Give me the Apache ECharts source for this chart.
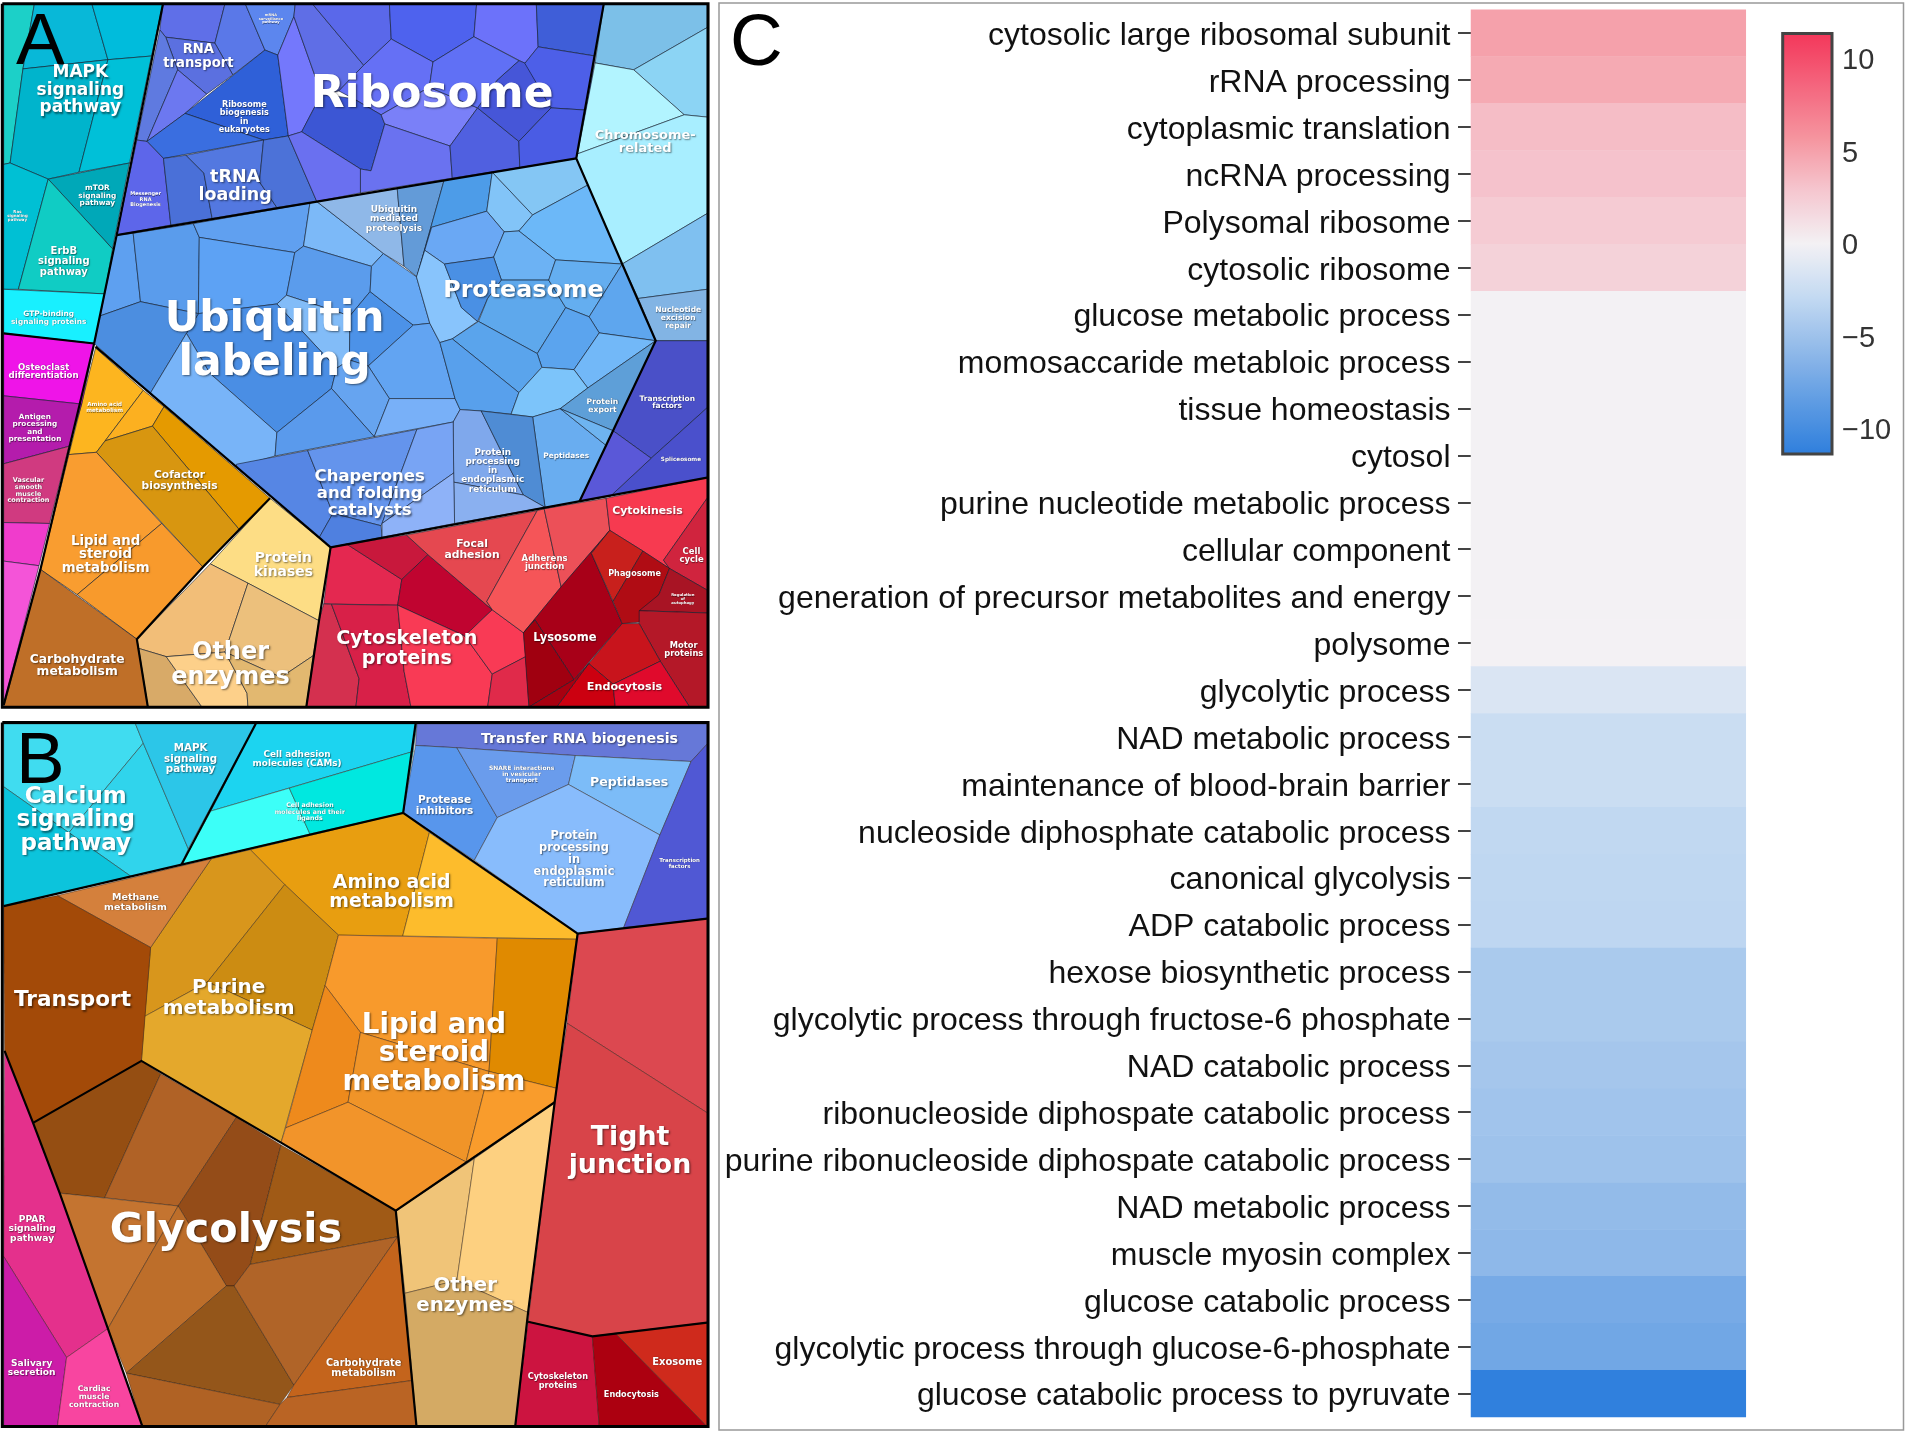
<!DOCTYPE html>
<html><head><meta charset="utf-8">
<style>html,body{margin:0;padding:0;background:#fff}#c{width:1905px;height:1431px}</style>
<script src="https://cdn.jsdelivr.net/npm/echarts@6/dist/echarts.min.js"></script>
</head><body><div id="c"></div>
<script>
// ---------- Heatmap (panel C)
const terms=["cytosolic large ribosomal subunit","rRNA processing","cytoplasmic translation","ncRNA processing","Polysomal ribosome","cytosolic ribosome","glucose metabolic process","momosaccaride metabloic process","tissue homeostasis","cytosol","purine nucleotide metabolic process","cellular component","generation of precursor metabolites and energy","polysome","glycolytic process","NAD metabolic process","maintenance of blood-brain barrier","nucleoside diphosphate catabolic process","canonical glycolysis","ADP catabolic process","hexose biosynthetic process","glycolytic process through fructose-6 phosphate","NAD catabolic process","ribonucleoside diphospate catabolic process","purine ribonucleoside diphospate catabolic process","NAD metabolic process","muscle myosin complex","glucose catabolic process","glycolytic process through glucose-6-phosphate","glucose catabolic process to pyruvate"];
const scores=[5.0,4.5,3.4,3.1,2.6,2.1,0,0,0,0,0,0,0,0,-1.5,-2.5,-2.5,-3.0,-3.1,-3.2,-4.3,-4.3,-4.6,-4.8,-5.0,-5.6,-5.9,-7.2,-7.5,-11.3];
const scoreMax=11.36;
const colorbarTicks=[-10,-5,0,5,10];
const scale3=['#2f7fdd','#5f9ce3','#92bae9','#c4daf2','#f3f1f4','#f5c7d0','#f5959f','#f4667e','#f3375a'];

// ---------- Proteomap A, polygons in map units (0..1568)
const tealA=[
[8,8,75,8,50,150,22,355,8,358],[75,8,200,8,235,130,50,150],[200,8,355,8,330,122,235,130],[50,150,235,130,172,375,105,390,22,355],[235,130,330,122,282,355,172,375],
[105,390,282,355,245,542],[8,358,22,355,105,390,40,630,8,630],[105,390,245,542,228,640,40,630],[8,630,228,640,205,748,8,726]];
const tealFillA=['#1cd0c8','#08b8d8','#00bcdc','#00b4cc','#00c0d8','#00a8b8','#00c0d4','#10ccc4','#18f0ff'];
const purpleA=[
[355,8,490,8,468,94,361,81,348,65],[490,8,534,8,577,109,507,163,468,94],[534,8,643,8,640,36,605,120,577,109],[361,81,468,94,507,163,450,205,387,152],[348,65,361,81,387,152,320,308,298,305],[387,152,450,205,403,247,320,308],
[403,247,577,109,605,120,628,296,574,305],[320,308,403,247,574,305,356,345],[298,305,320,308,356,345,372,490,254,512],[356,345,405,338,444,377,462,476,372,490],[405,338,574,305,565,396,603,452,462,476,444,377],[574,305,628,296,690,439,603,452,565,396],
[605,120,640,36,700,205,657,287,628,296],[640,36,643,8,680,8,792,142,738,198,700,205],[680,8,848,8,852,85,792,142],[848,8,1038,8,1032,80,943,135,852,85],[1038,8,1168,8,1172,102,1143,138,1032,80],[1168,8,1315,8,1296,122,1172,102],
[792,142,852,85,943,135,935,190,830,250,770,215,738,198],[657,287,700,205,770,215,830,250,838,270,808,372,785,368],[628,296,657,287,785,368,785,420,690,439],[830,250,935,190,1040,235,980,318,838,270],[808,372,838,270,980,318,985,388,785,420,785,368],[980,318,1040,235,1130,308,1132,365,985,388],
[1040,235,1082,175,1130,132,1145,138,1200,235,1130,308],[943,135,1032,80,1130,132,1082,175,1040,235,935,190],[1143,138,1172,102,1296,122,1280,240,1200,235],[1200,235,1280,240,1255,345,1132,365,1130,308]];
const purpleFillA=['#5f6fe8','#5a78e8','#5c86ee','#5b70e0','#5f7ae0','#6c78f0','#2f60d8','#3a6ee0','#5d66ea','#4a70d8','#5378e0','#4c72d8',
'#7478fc','#5f6ee6','#5a68ea','#4e62ee','#6c72fa','#3f5ed8','#6570f5','#3c56d4','#6a70f0','#7a80f8','#6a72f0','#5060e0','#4656d8','#6070f5','#4d5fe8','#4a5ce4'];
const chromA=[
[1315,8,1540,8,1540,60,1380,152,1296,137],[1380,152,1540,60,1540,255,1490,250],[1296,137,1380,152,1490,250,1258,335],[1258,335,1490,250,1540,255,1540,465,1355,575,1255,345],[1355,575,1540,465,1540,630,1390,650],[1390,650,1540,630,1540,742,1428,742],
[1428,742,1540,742,1540,888,1418,998,1335,938],[1418,998,1540,888,1540,1040,1262,1092,1330,1080],[1335,938,1418,998,1330,1080,1262,1092]];
const chromFillA=['#7cc0e8','#8cd4f4','#b2f4ff','#a8eeff','#7fc0f0','#82b4e4','#4a50c8','#4a50cc','#5a58d8'];
const ubiqA=[
[254,512,290,508,306,657,218,688],[290,508,421,487,434,517,432,683,306,657],[421,487,675,442,661,536,642,550,434,517],[434,517,642,550,624,643,603,662,432,683],[675,442,690,439,835,552,809,580,661,536],[661,536,809,580,806,635,762,688,624,643,642,550],
[624,643,762,688,761,784,733,802,603,662],[432,683,603,662,733,802,722,846,603,942,457,813,406,726],[806,635,900,708,802,797,761,784,762,688],[218,688,306,657,432,683,406,726,327,857,205,748],[327,857,406,726,457,813,603,942,599,993,515,1017],
[809,580,835,552,907,603,936,704,900,708,806,635],[900,708,936,704,958,746,991,868,848,868,802,797],[761,784,802,797,848,868,815,951,722,846,733,802],[722,846,815,951,599,993,603,942],[848,868,991,868,1002,892,987,919,815,951],
[690,439,865,410,880,580,835,552],[865,410,967,393,908,603,880,580]];
const ubiqFillA=['#5ea0f0','#5a9cec','#60a0f0','#5da2f4','#7cb9f8','#5b9cec','#82bcf8','#4a8ee4','#4c92e8','#4c8ee0','#78b4f8','#66a8f4','#62a4f2','#66a4f0','#5a9aec','#78b0f8','#8fb8e8','#639bd8'];
const proteasomeA=[
[967,393,1072,375,1060,460,940,495,908,603],[1072,375,1160,468,1130,503,1098,505,1060,460],[1072,375,1255,345,1280,403,1160,468],[1160,468,1280,403,1355,575,1210,566,1130,503],[940,495,1060,460,1098,505,1075,560,968,575,925,545],[1098,505,1130,503,1210,566,1195,610,1092,610,1075,560],
[907,603,925,545,968,575,1005,670,1040,700,985,738,958,746,936,704],[968,575,1075,560,1092,610,1062,650,1040,700,1005,670],[1092,610,1195,610,1232,670,1170,770,1042,700,1062,650],[1195,610,1210,566,1355,575,1283,690,1232,670],[1355,575,1428,742,1305,725,1283,690],
[1232,670,1283,690,1305,725,1250,805,1180,800,1170,770],[1305,725,1428,742,1280,845,1250,805],[985,738,1042,700,1170,770,1180,800,1130,855],[958,746,985,738,1130,855,1113,902,1048,895,1002,892,991,868],[1130,855,1180,800,1250,805,1280,845,1220,890,1160,908,1113,902],
[1428,742,1335,938,1220,890,1280,845],[1160,908,1220,890,1320,970,1262,1092,1187,1105],[1220,890,1335,938,1320,970],
[987,919,1002,892,1048,895,1100,1000,1140,1078,988,1050],[1048,895,1160,908,1187,1105,1140,1078,1100,1000],[988,1050,1140,1078,1187,1105,990,1140],
[515,1017,515,1011,670,981,725,1118,695,1171],[670,981,908,935,830,1145,725,1118],[908,935,987,919,988,1030,832,1140],[725,1118,830,1145,832,1170,720,1192,695,1171],[832,1140,988,1030,990,1140,832,1170]];
const proteasomeFillA=['#4d9ce8','#82c4f8','#84c6f4','#6cb8f8','#6aa8f4','#6cb2f4','#88c4fc','#4a90e4','#5ea8ec','#64aef0','#5ea6ee','#5ba4ee','#72b8f8','#5aa4ec','#58a0ec','#7cc4fa','#5e9fd8','#69adf0','#6eb4f0','#7fa8ec','#4f8cd4','#8ab0f0','#5686e4','#6494ec','#78a4f4','#4f80e0','#8eb2f8'];
const orangeA=[
[208,758,312,850,229,960,210,985,150,990],[312,850,357,886,332,928,229,960],[357,886,588,1085,520,1152,332,928],[229,960,332,928,520,1152,442,1235,210,985],[150,990,210,985,352,1140,168,1295,88,1240],[352,1140,442,1235,298,1392,168,1295],
[588,1085,720,1192,695,1352,540,1270,458,1228],[458,1228,540,1270,490,1420,362,1430,302,1412,298,1392],[540,1270,695,1352,682,1428,612,1475,490,1420],[302,1412,362,1430,440,1540,322,1540],[362,1430,490,1420,538,1510,540,1540,440,1540],[490,1420,612,1475,682,1428,667,1540,540,1540,538,1510],
[88,1240,298,1392,322,1540,8,1540]];
const orangeFillA=['#fdb51f','#fcb020','#e59a00','#d89610','#f99d30','#f89a2c','#fddd85','#f2be78','#ecc07c','#d8aa68','#fdd08a','#e2b870','#bf6f28'];
const pinkA=[[8,726,205,748,178,880,8,862],[8,862,178,880,150,972,8,1010],[8,1010,150,972,108,1140,8,1138],[8,1138,108,1140,85,1232,8,1222],[8,1222,85,1232,8,1535]];
const pinkFillA=['#ef14e8','#b41cac','#d03a80','#f03ccc','#f454d8'];
const redA=[
[720,1192,755,1185,875,1262,866,1318,705,1315],[755,1185,885,1165,932,1208,875,1262],[875,1262,932,1208,1072,1328,1012,1385,866,1318],[695,1350,705,1315,722,1316,782,1478,775,1540,667,1540],[722,1316,866,1318,880,1462,895,1540,775,1540,782,1478],[866,1318,1012,1385,1072,1468,1062,1540,895,1540,880,1462],
[1072,1328,1140,1378,1145,1430,1072,1468,1012,1385],[1072,1468,1145,1430,1152,1540,1062,1540],[885,1165,1170,1112,1060,1310,1072,1328,932,1208],[1170,1112,1185,1108,1222,1278,1140,1378,1072,1328,1060,1310],[1185,1108,1320,1085,1328,1155,1222,1278],
[1320,1085,1540,1040,1540,1085,1445,1220,1458,1238,1400,1200,1328,1155],[1540,1085,1540,1285,1458,1238,1445,1220],[1140,1378,1222,1278,1328,1155,1288,1205,1355,1358,1250,1480,1165,1350],[1140,1378,1165,1350,1250,1480,1152,1540],
[1288,1205,1328,1155,1400,1200,1335,1310],[1400,1200,1458,1238,1435,1295,1392,1355,1355,1358,1335,1310],[1458,1238,1540,1285,1540,1335,1392,1330,1435,1295],[1392,1330,1540,1335,1540,1540,1502,1540,1438,1440,1392,1358],[1355,1358,1392,1358,1438,1440,1335,1490,1282,1445],
[1282,1445,1335,1490,1340,1540,1212,1540],[1335,1490,1438,1440,1502,1540,1340,1540],[1250,1480,1282,1445,1212,1540,1152,1540]];
const redFillA=['#e42850','#c8183c','#c00430','#d4304f','#d82048','#f93a55','#f93a55','#e02a4a','#e54850','#f55558','#ec5058','#f73a50','#d0243e','#a80018','#a00010','#c8201c','#b00c14','#a81424','#b41828','#c8141c','#cc0010','#e00a2c','#a80010'];
const ridgesA=[
[5,8,1542,8,1542,1540,5,1540,5,8],[355,8,254,512,205,748],[8,726,205,748],[205,748,88,1240,8,1535],[208,755,720,1192],[254,512,690,439,1255,345],
[1315,8,1255,345,1355,575,1428,742,1335,938,1262,1092],[720,1192,1540,1040],[720,1192,695,1350,667,1540],[588,1085,442,1235,298,1392,322,1540]];
const namesA=[
["MAPK\nsignaling\npathway",175,192,17],["RNA\ntransport",432,119,13.2],["Ribosome\nbiogenesis\nin\neukaryotes",532,252,8.1],["mRNA\nsurveillance\npathway",590,38,3.6],["tRNA\nloading",512,400,17.5],["Messenger\nRNA\nBiogenesis",317,431,5],["Ribosome",941,198,44],
["mTOR\nsignaling\npathway",212,423,7.4],["Ras\nsignaling\npathway",38,467,4],["ErbB\nsignaling\npathway",139,566,10],["GTP-binding\nsignaling proteins",106,689,7.4],["Chromosome-\nrelated",1405,305,13],["Ubiquitin\nmediated\nproteolysis",858,473,9],["Proteasome",1140,626,23.8],["Ubiquitin\nlabeling",598,735,42.5],
["Nucleotide\nexcision\nrepair",1477,689,7.6],["Protein\nexport",1312,880,7.7],["Transcription\nfactors",1453,873,7.5],["Spliceosome",1483,997,5.7],["Peptidases",1233,990,7.4],["Protein\nprocessing\nin\nendoplasmic\nreticulum",1073,1022,8.9],["Chaperones\nand folding\ncatalysts",805,1071,16.5],
["Osteoclast\ndifferentiation",95,806,8.6],["Antigen\nprocessing\nand\npresentation",76,929,7.3],["Vascular\nsmooth\nmuscle\ncontraction",62,1065,6.5],["Amino acid\nmetabolism",228,885,5.6],["Cofactor\nbiosynthesis",391,1043,10.7],["Lipid and\nsteroid\nmetabolism",230,1204,13.3],["Protein\nkinases",617,1227,13.9],["Other\nenzymes",502,1442,24],["Carbohydrate\nmetabolism",168,1446,12.3],
["Cytoskeleton\nproteins",886,1408,19.2],["Focal\nadhesion",1028,1193,10.8],["Adherens\njunction",1186,1222,8.6],["Cytokinesis",1410,1110,10.9],["Cell\ncycle",1506,1207,8.5],["Phagosome",1382,1246,8.1],["Regulation\nof\nautophagy",1487,1302,3.8],["Lysosome",1230,1385,11.5],["Motor\nproteins",1489,1412,8.3],["Endocytosis",1360,1492,11.2]];

// ---------- Proteomap B
const tealB=[
[8,28,295,28,312,70,150,265,8,165],[312,70,410,300,395,335,285,360,150,265],[8,165,285,360,8,425],[295,28,557,28,410,300,312,70],[557,28,908,28,900,88,459,218],[459,218,630,168,675,268,395,335],[630,168,900,88,878,222,675,268]];
const tealFillB=['#40dcf0','#30d4ec','#0cc4dc','#2cc6e8','#1cd4f0','#3cfff8','#00e8e0'];
const blueB=[
[908,28,1540,28,1540,72,1505,110,1253,97,995,80,905,75],[905,75,995,80,1083,232,1033,325,878,222],[995,80,1253,97,1238,160,1083,232],[1253,97,1505,110,1437,270,1238,160],[1083,232,1238,160,1437,270,1358,472,1258,485,1033,325],[1505,110,1540,72,1540,452,1358,472,1437,270]];
const blueFillB=['#6678d8','#5896ec','#6a9cec','#7cbcf8','#88bcfc','#5058d4'];
const goldB=[
[545,302,878,222,935,265,877,490,737,488,620,378],[935,265,1258,485,1255,497,877,490],[460,322,545,302,620,378,452,590,315,665,328,515],[620,378,737,488,708,598,680,695,452,590],[315,665,452,590,680,695,612,940,515,885,308,762],
[737,488,1083,495,1065,785,785,700,708,598],[1083,495,1255,497,1213,822,1065,785],[708,598,785,700,758,852,622,908,680,695],[785,700,1065,785,1015,982,758,852],[1065,785,1213,822,1208,852,1015,982],[622,908,758,852,1015,982,862,1088,612,940]];
const goldFillB=['#e89e10','#fdbc2c','#d8961c','#cc8c12','#e4a82c','#f89a2c','#e08a00','#ee8a1c','#f09428','#f99c2c','#f2942a'];
const brownB=[
[125,402,460,322,328,515],[8,425,125,402,328,515,308,762,72,897,10,740],[72,897,308,762,350,790,228,1060,130,1050],[350,790,515,885,388,1078,228,1060],[515,885,612,945,545,1205,510,1252,493,1252,388,1078],[612,945,862,1088,866,1145,545,1205],
[130,1050,388,1078,235,1345],[388,1078,493,1252,275,1442,235,1345],[493,1252,510,1252,640,1468,610,1510,275,1442],[545,1205,866,1145,640,1468,510,1252],[866,1145,898,1458,625,1495,640,1468],[275,1442,610,1510,578,1558,310,1558],[625,1495,898,1458,907,1558,578,1558,610,1510]];
const brownFillB=['#d4803c','#a34a08','#954e12','#b06226','#944c18','#a05a16','#c47430','#bd6e2a','#94561a','#b06428','#c4641c','#b06224','#ba6424'];
const paleB=[[862,1088,1033,975,995,1240,882,1268],[1033,975,1208,852,1150,1310,995,1240],[882,1268,995,1240,1150,1310,1122,1558,907,1558]];
const paleFillB=['#f0c478','#fdd080','#d4aa64'];
const redB=[[1258,485,1540,452,1540,875,1235,680],[1235,680,1540,875,1540,1332,1290,1362,1150,1330,1208,852],[1150,1330,1290,1362,1305,1558,1122,1558],[1290,1362,1340,1355,1540,1558,1305,1558],[1340,1355,1540,1332,1540,1558]];
const redFillB=['#dc4850','#d84449','#cc1440','#ac0010','#cf2a1c'];
const pinkB=[[10,740,72,897,130,1050,235,1345,145,1408,8,1188],[8,1188,145,1408,125,1558,8,1558],[145,1408,235,1345,310,1558,125,1558]];
const pinkFillB=['#e4308c','#cc1ca8','#f845a0'];
const ridgesB=[
[5,25,1542,25,1542,1558,5,1558,5,25],[8,425,878,222,1258,485,1540,452],[905,28,878,222],[1258,485,1208,852,1150,1310,1122,1558],[1208,852,862,1088,612,940,308,762,72,897],[862,1088,907,1558],[10,740,72,897,130,1050,235,1345,310,1558],[1150,1330,1290,1362,1540,1332],[557,28,395,335]];
const namesB=[
["Calcium\nsignaling\npathway",165,232,23],["MAPK\nsignaling\npathway",415,101,10.3],["Cell adhesion\nmolecules (CAMs)",647,102,8.9],["Cell adhesion\nmolecules and their\nligands",675,217,6.3],["Transfer RNA biogenesis",1262,57,14.3],["SNARE interactions\nin vesicular\ntransport",1136,135,6],["Peptidases",1370,152,12.6],["Protease\ninhibitors",968,203,10.6],["Protein\nprocessing\nin\nendoplasmic\nreticulum",1250,320,11.4],["Transcription\nfactors",1480,329,5.5],
["Methane\nmetabolism",295,413,9.5],["Amino acid\nmetabolism",853,390,18.9],["Purine\nmetabolism",498,620,20],["Lipid and\nsteroid\nmetabolism",945,740,27.7],["Transport",158,625,21.6],["Tight\njunction",1372,953,26.8],["Glycolysis",492,1123,41.3],["Other\nenzymes",1013,1268,19.8],["PPAR\nsignaling\npathway",70,1124,9.2],["Salivary\nsecretion",69,1427,9.1],["Cardiac\nmuscle\ncontraction",205,1490,7.8],["Carbohydrate\nmetabolism",792,1427,9.8],["Cytoskeleton\nproteins",1215,1456,8.2],["Endocytosis",1375,1485,8.2],["Exosome",1475,1414,10]];

const cellsA=[...tealA,...purpleA,...chromA,...ubiqA,...proteasomeA,...orangeA,...pinkA,...redA];
const fillsA=[...tealFillA,...purpleFillA,...chromFillA,...ubiqFillA,...proteasomeFillA,...orangeFillA,...pinkFillA,...redFillA];
const cellsB=[...tealB,...blueB,...goldB,...brownB,...paleB,...redB,...pinkB];
const fillsB=[...tealFillB,...blueFillB,...goldFillB,...brownFillB,...paleFillB,...redFillB,...pinkFillB];

const pts=(flat,api)=>{const o=[];for(let i=0;i<flat.length;i+=2)o.push(api.coord([flat[i],flat[i+1]]));return o;};
const cellSeries=(cells,fills,ax,edge)=>({type:'custom',coordinateSystem:'cartesian2d',xAxisIndex:ax,yAxisIndex:ax,silent:true,z:2,
  data:cells.map(c=>[c[0],c[1]]),
  renderItem:(p,api)=>({type:'polygon',shape:{points:pts(cells[p.dataIndex],api)},style:{fill:fills[p.dataIndex],stroke:edge,lineWidth:.8}})});
const ridgeSeries=(lines,ax)=>({type:'custom',coordinateSystem:'cartesian2d',xAxisIndex:ax,yAxisIndex:ax,silent:true,z:3,
  data:lines.map(c=>[c[0],c[1]]),
  renderItem:(p,api)=>({type:'polyline',shape:{points:pts(lines[p.dataIndex],api)},style:{fill:'none',stroke:'#000',lineWidth:p.dataIndex==0?3:2.2}})});
const nameSeries=(names,ax)=>({type:'scatter',xAxisIndex:ax,yAxisIndex:ax,silent:true,z:4,symbolSize:1,itemStyle:{color:'transparent',opacity:1},
  data:names.map(n=>({value:[n[1],n[2]],label:{show:true,position:'inside',offset:[0,1+n[3]*.08],formatter:n[0],fontFamily:'DejaVu Sans',fontWeight:'bold',color:'#fff',align:'center',verticalAlign:'middle',fontSize:n[3],lineHeight:n[3]*1.03,textShadowColor:'rgba(0,0,0,.5)',textShadowBlur:Math.min(2,n[3]/8),textShadowOffsetX:Math.min(1.2,n[3]/14),textShadowOffsetY:Math.min(1.2,n[3]/14)}}))});
const mapAxis=(i,inv)=>({type:'value',gridIndex:i,min:0,max:1568,inverse:inv,show:false,splitLine:{show:false}});

const chart=echarts.init(document.getElementById('c'),null,{renderer:'canvas'});
chart.setOption({
  animation:false,backgroundColor:'#fff',
  title:[
    {text:'A',left:16,top:7,padding:0,textStyle:{fontFamily:'Liberation Sans',fontWeight:'normal',fontSize:73,color:'#000'}},
    {text:'B',left:16,top:726,padding:0,textStyle:{fontFamily:'Liberation Sans',fontWeight:'normal',fontSize:73,color:'#000'}},
    {text:'C',left:730,top:8,padding:0,textStyle:{fontFamily:'Liberation Sans',fontWeight:'normal',fontSize:73,color:'#000'}}
  ],
  graphic:[{type:'rect',z:0,shape:{x:719,y:3,width:1184.5,height:1427},style:{fill:'none',stroke:'#999',lineWidth:1.5}}],
  grid:[
    {left:0,top:0,width:720,height:720},
    {left:0,top:711,width:720,height:720},
    {left:1471,top:9.7,width:274.8,height:1407.4},
    {left:1782.7,top:33.5,width:49.3,height:420.5,show:true,z:6,backgroundColor:'transparent',borderColor:'#444',borderWidth:3}
  ],
  xAxis:[mapAxis(0,false),mapAxis(1,false),
    {type:'category',gridIndex:2,data:[''],show:false},
    {type:'value',gridIndex:3,show:false,min:0,max:1}],
  yAxis:[mapAxis(0,true),mapAxis(1,true),
    {type:'category',gridIndex:2,data:terms,inverse:true,axisLine:{show:false},
     axisTick:{show:true,length:13,alignWithLabel:true,lineStyle:{color:'#444',width:2}},
     axisLabel:{interval:0,margin:20.5,verticalAlign:'top',lineHeight:6,fontFamily:'Liberation Sans',fontSize:32,color:'#111'},splitLine:{show:false}},
    {type:'value',gridIndex:3,position:'right',min:-scoreMax,max:scoreMax,splitLine:{show:false},axisLine:{show:false},
     axisTick:{show:true,length:4,customValues:colorbarTicks,lineStyle:{color:'#444',width:1.5}},
     axisLabel:{margin:10,verticalAlign:'top',lineHeight:5,customValues:colorbarTicks,fontFamily:'Liberation Sans',fontSize:29,color:'#333',formatter:v=>String(v).replace('-','\u2212')}}],
  visualMap:{type:'continuous',seriesIndex:6,min:-scoreMax,max:scoreMax,calculable:false,hoverLink:false,left:1782.7,top:33.5,itemWidth:49.3,itemHeight:420.5,padding:0,inRange:{color:scale3},textStyle:{fontSize:0},text:null,showLabel:false},
  series:[
    cellSeries(cellsA,fillsA,0,'rgba(15,25,40,.75)'),ridgeSeries(ridgesA,0),nameSeries(namesA,0),
    cellSeries(cellsB,fillsB,1,'rgba(40,25,15,.55)'),ridgeSeries(ridgesB,1),nameSeries(namesB,1),
    {type:'heatmap',xAxisIndex:2,yAxisIndex:2,silent:true,data:scores.map((v,i)=>[0,i,v]),itemStyle:{borderWidth:0},label:{show:false}}
  ]
});
</script></body></html>
